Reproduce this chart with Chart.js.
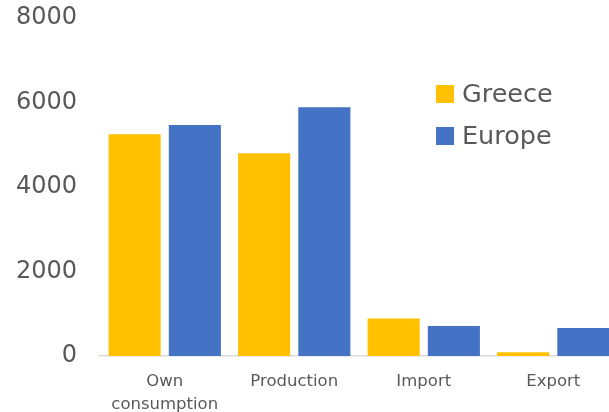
<!DOCTYPE html>
<html>
<head>
<meta charset="utf-8">
<script src="https://cdn.jsdelivr.net/npm/chart.js@4/dist/chart.umd.min.js"></script>
<style>
html,body{margin:0;padding:0;background:#fff;overflow:hidden;width:609px;height:412px;}
#wrap{position:relative;width:618px;height:412px;}
</style>
</head>
<body>
<div id="wrap"><canvas id="c"></canvas></div>
<script>
const categories = [['Own', 'consumption'], 'Production', 'Import', 'Export'];
const greece = [5250, 4800, 890, 90];
const europe = [5470, 5890, 710, 660];
const yTicks = [0, 2000, 4000, 6000, 8000];
const seriesNames = ['Greece', 'Europe'];
const seriesColors = ['#FFC000', '#4472C4'];

const legendPlugin = {
  id: 'sideLegend',
  afterDraw(chart) {
    const ctx = chart.ctx;
    ctx.save();
    chart.data.datasets.forEach((ds, i) => {
      const y = 94 + i * 42;
      ctx.fillStyle = ds.backgroundColor;
      ctx.fillRect(436, y - 9, 18, 18);
      ctx.fillStyle = '#595959';
      ctx.font = '25.5px "DejaVu Sans"';
      ctx.textBaseline = 'middle';
      ctx.textAlign = 'left';
      ctx.fillText(ds.label, 462, y + 1);
    });
    ctx.restore();
  }
};

new Chart(document.getElementById('c'), {
  type: 'bar',
  data: {
    labels: categories,
    datasets: [
      { label: seriesNames[0], data: greece, backgroundColor: seriesColors[0] },
      { label: seriesNames[1], data: europe, backgroundColor: seriesColors[1] }
    ]
  },
  options: {
    responsive: true,
    maintainAspectRatio: false,
    animation: false,
    devicePixelRatio: 1,
    layout: { padding: { top: 18, right: 0, left: 0, bottom: 0 } },
    datasets: { bar: { categoryPercentage: 0.93, barPercentage: 0.865 } },
    plugins: { legend: { display: false }, tooltip: { enabled: false } },
    scales: {
      x: {
        afterFit(scale) { scale.height = 56; },
        grid: { display: false, drawTicks: false },
        border: { display: true, color: '#d9d9d9', width: 1.5 },
        ticks: { color: '#595959', font: { family: 'DejaVu Sans', size: 16.5, lineHeight: 1.35 }, padding: 15, maxRotation: 0, autoSkip: false }
      },
      y: {
        min: 0, max: 8000,
        afterFit(scale) { scale.width = 100; scale.paddingTop = 0; scale.paddingBottom = 0; },
        afterBuildTicks(scale) { scale.ticks = yTicks.map(v => ({ value: v })); },
        grid: { display: false, drawTicks: false },
        border: { display: false },
        ticks: { color: '#595959', font: { family: 'DejaVu Sans', size: 24 }, padding: 23, callback: v => String(v) }
      }
    }
  },
  plugins: [legendPlugin]
});
</script>
</body>
</html>
